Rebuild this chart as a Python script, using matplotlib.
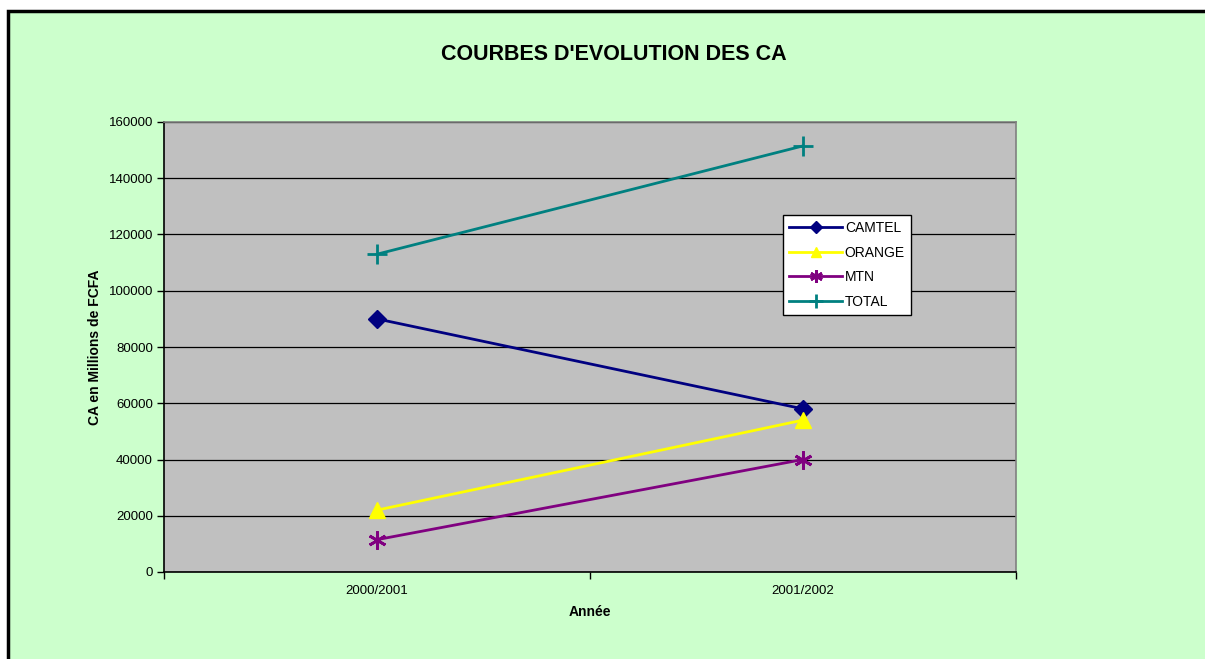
import matplotlib.pyplot as plt
from matplotlib.patches import Rectangle

plt.rcParams['font.family'] = ['Liberation Sans', 'DejaVu Sans']

annees = ['2000/2001', '2001/2002']
camtel = [90000, 58000]
orange = [22000, 54000]
mtn = [11500, 40000]
total = [113000, 151500]

W, H = 1205, 659
fig = plt.figure(figsize=(W / 100, H / 100), dpi=100, facecolor='white')

# green chart area with black border (runs off right/bottom edge)
fig.patches.append(Rectangle((8 / W, -0.05), 1.1, 1 - 11 / H + 0.05,
                             transform=fig.transFigure, facecolor='#CCFFCC',
                             edgecolor='black', linewidth=2.5, zorder=-10))

ax = fig.add_axes([164 / W, 1 - 572 / H, 852 / W, 450 / H])
ax.set_facecolor('#C0C0C0')

x = [0.5, 1.5]
ax.plot(x, camtel, color='#000080', marker='D', markersize=9, linewidth=2, label='CAMTEL')
ax.plot(x, orange, color='#FFFF00', marker='^', markersize=11, linewidth=2, label='ORANGE')
ax.plot(x, mtn, color='#800080', marker=(6, 2, 0), markersize=13, markeredgewidth=2,
        linewidth=2, label='MTN')
ax.plot(x, total, color='#008080', marker='+', markersize=14, markeredgewidth=2,
        linewidth=2, label='TOTAL')

ax.set_xlim(0, 2)
ax.set_ylim(0, 160000)
ax.set_yticks(range(0, 160001, 20000))
ax.set_xticks(x)
ax.set_xticklabels(annees)
ax.set_xticks([0, 1, 2], minor=True)
ax.tick_params(axis='x', which='major', length=0, pad=9, labelsize=9.5)
ax.tick_params(axis='x', which='minor', length=5, width=1, color='black')
ax.tick_params(axis='y', length=5, width=1, color='black', labelsize=9.5, pad=3)
ax.yaxis.grid(True, color='black', linewidth=0.9)
ax.set_axisbelow(True)

for s in ['left', 'bottom']:
    ax.spines[s].set_color('black')
    ax.spines[s].set_linewidth(1.2)
for s in ['top', 'right']:
    ax.spines[s].set_color('#808080')
    ax.spines[s].set_linewidth(1.2)

ax.set_xlabel('Année', fontsize=10, fontweight='bold', labelpad=6)
ax.set_ylabel('CA en Millions de FCFA', fontsize=10, fontweight='bold', labelpad=5)

fig.text(614 / W, 1 - 54 / H, "COURBES D'EVOLUTION DES CA", ha='center', va='center',
         fontsize=15.5, fontweight='bold')

leg = ax.legend(loc='upper left', bbox_to_anchor=((783 - 164) / 852, (572 - 215) / 450),
                borderaxespad=0, fancybox=False, framealpha=1, edgecolor='black',
                fontsize=10, handlelength=3.8, handletextpad=0.2, labelspacing=0.75,
                borderpad=0.45, markerscale=0.7)
leg.get_frame().set_linewidth(1)

fig.savefig('out.png', dpi=100, facecolor='white')
